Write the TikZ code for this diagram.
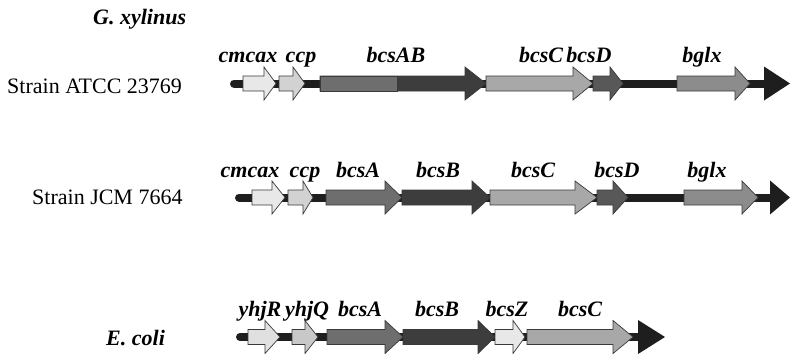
\documentclass[tikz,border=0pt]{standalone}
\usepackage{fontspec}
\setmainfont{Liberation Serif}

\definecolor{spinec}{HTML}{1E1E1E}
\definecolor{outl}{HTML}{3A3A3A}
\definecolor{gLight}{HTML}{E8E8E8}
\definecolor{gLightB}{HTML}{D2D2D2}
\definecolor{gYhjR}{HTML}{E0E0E0}
\definecolor{gYhjQ}{HTML}{C8C8C8}
\definecolor{gA}{HTML}{6E6E6E}
\definecolor{gB}{HTML}{3D3D3D}
\definecolor{gC}{HTML}{A8A8A8}
\definecolor{gD}{HTML}{585858}
\definecolor{gG}{HTML}{8C8C8C}

\tikzset{
  gene/.style={draw=outl, line width=0.7pt, line join=miter},
  spine/.style={line width=8pt, draw=spinec},
  glabel/.style={font=\fontsize{22}{25}\selectfont\bfseries\itshape, anchor=base, inner sep=0pt},
  olabel/.style={font=\fontsize{22}{26}\selectfont\bfseries\itshape, anchor=base west, inner sep=0pt},
  slabel/.style={font=\fontsize{22}{26}\selectfont, anchor=base west, inner sep=0pt},
}

% gene arrow: start x, head start x, tip x, centre y, fill colour
\newcommand\genearrow[5]{%
  \filldraw[gene, fill=#5] (#1,#4-7.5) -- (#2,#4-7.5) -- (#2,#4-16.5) -- (#3,#4)
    -- (#2,#4+16.5) -- (#2,#4+7.5) -- (#1,#4+7.5) -- cycle;}
% chromosome line with round start and black arrow end
\newcommand\spineline[4]{% start x, head start x, tip x, y
  \draw[spine, line cap=round] (#1,#4) -- (#2,#4);
  \fill[spinec] (#2,#4-17) -- (#3,#4) -- (#2,#4+17) -- cycle;}

\begin{document}
\begin{tikzpicture}[x=1pt, y=-1pt]
\useasboundingbox (0,0) rectangle (791,353);

% organism and strain labels
\node[olabel] (org1) at (93,25) {G. xylinus};
\node[slabel] (st1) at (7,93) {Strain ATCC 23769};
\node[slabel] (st2) at (32,204) {Strain JCM 7664};
\node[olabel] (org2) at (106,345) {E. coli};

% --- Strain ATCC 23769
\spineline{234}{764}{790}{83.5}
\genearrow{243}{264}{276}{83.5}{gLight}
\genearrow{279}{293}{305}{83.5}{gLightB}
\genearrow{320}{465}{486}{83.5}{gB}
\filldraw[gene, fill=gA] (320,76) rectangle (397,91);
\genearrow{486}{573}{593}{83.5}{gC}
\genearrow{593}{610}{623}{83.5}{gD}
\genearrow{677}{735}{750}{83.5}{gG}
\node[glabel] (a1) at (248,62) {cmcax};
\node[glabel] (a2) at (301,62) {ccp};
\node[glabel] (a3) at (396,62) {bcsAB};
\node[glabel] (a4) at (541,62) {bcsC};
\node[glabel] (a5) at (589,62) {bcsD};
\node[glabel] (a6) at (702,62) {bglx};

% --- Strain JCM 7664
\spineline{239}{770}{790}{197.5}
\genearrow{252}{272}{285}{197.5}{gLight}
\genearrow{288}{303}{313}{197.5}{gLightB}
\genearrow{326}{385}{402}{197.5}{gA}
\genearrow{402}{472}{490}{197.5}{gB}
\genearrow{490}{575}{597}{197.5}{gC}
\genearrow{597}{613}{628}{197.5}{gD}
\genearrow{684}{742}{758}{197.5}{gG}
\node[glabel] (b1) at (250,177) {cmcax};
\node[glabel] (b2) at (305,177) {ccp};
\node[glabel] (b3) at (358,177) {bcsA};
\node[glabel] (b4) at (438,177) {bcsB};
\node[glabel] (b5) at (533,177) {bcsC};
\node[glabel] (b6) at (617,177) {bcsD};
\node[glabel] (b7) at (707,177) {bglx};

% --- E. coli
\spineline{240}{638}{665}{337}
\genearrow{248}{265}{280}{337}{gYhjR}
\genearrow{292}{305}{318}{337}{gYhjQ}
\genearrow{327}{385}{403}{337}{gA}
\genearrow{403}{478}{495}{337}{gB}
\genearrow{495}{513}{525}{337}{gLight}
\genearrow{527}{613}{633}{337}{gC}
\node[glabel] (c1) at (260,316) {yhjR};
\node[glabel] (c2) at (307,316) {yhjQ};
\node[glabel] (c3) at (360,316) {bcsA};
\node[glabel] (c4) at (437,316) {bcsB};
\node[glabel] (c5) at (507,316) {bcsZ};
\node[glabel] (c6) at (580,316) {bcsC};
\end{tikzpicture}
\end{document}
